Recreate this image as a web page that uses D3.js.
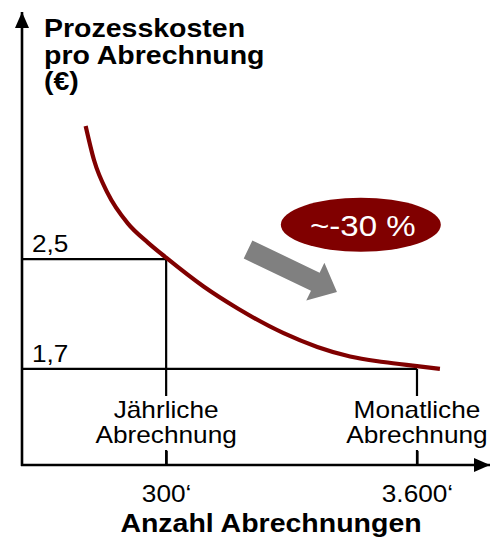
<!DOCTYPE html>
<html>
<head>
    <meta charset="utf-8" />
    <title>Prozesskosten pro Abrechnung</title>
    <script src="https://cdn.jsdelivr.net/npm/d3@7"></script>
    <style>
        body { margin: 0; background: #fff; }
        svg text { font-family: "Liberation Sans", Arial, sans-serif; fill: #000; }
        .bold { font-weight: bold; font-size: 25px; }
        .reg { font-size: 23px; }
    </style>
</head>
<body>
    <svg width="490" height="539"></svg>

    <script>
        // Kostenkurve (x = relative Position auf der Achse, y = Kosten in €)
        var curveX = [13.6, 15.4, 18.3, 22.6, 26.9, 30.8, 38.8, 46.1, 55.9, 63.1, 70.1, 77.2, 84.4, 89.3];
        var curveY = [3.47, 3.22, 2.98, 2.76, 2.62, 2.51, 2.30, 2.14, 1.96, 1.86, 1.79, 1.75, 1.72, 1.70];

        // Abrechnungsvarianten
        var levelX = [30.8, 84.4];
        var levelY = [2.5, 1.7];
        var levelLabels = ["2,5", "1,7"];
        var tickLabels = ["300‘", "3.600‘"];
        var categoryLabels = [["Jährliche", "Abrechnung"], ["Monatliche", "Abrechnung"]];

        var reductionLabel = "~-30 %";
        var titleLines = ["Prozesskosten", "pro Abrechnung", "(€)"];
        var xTitle = "Anzahl Abrechnungen";

        var SX = 1.14; // text is a bit wider in the original
        var darkRed = "#800000";

        var svg = d3.select("svg");
        var x = d3.scaleLinear().domain([0, 100]).range([22, 490]);
        var y = d3.scaleLinear().domain([1.0, 4.3]).range([465, 12]);

        var defs = svg.append("defs");
        defs.append("marker")
            .attr("id", "arrow")
            .attr("markerUnits", "userSpaceOnUse")
            .attr("markerWidth", 16).attr("markerHeight", 14)
            .attr("refX", 16).attr("refY", 7)
            .attr("orient", "auto")
            .append("path").attr("d", "M0,0L16,7L0,14Z").attr("fill", "#000");

        function label(x0, y0, str, cls, anchor) {
            var g = svg.append("g").attr("transform", "translate(" + x0 + "," + y0 + ") scale(" + SX + ",1)");
            return g.append("text").attr("class", cls).attr("text-anchor", anchor || "start").text(str);
        }

        // Hilfslinien
        levelY.forEach(function (v, i) {
            svg.append("line")
                .attr("x1", x(0)).attr("x2", x(levelX[i]))
                .attr("y1", y(v)).attr("y2", y(v))
                .attr("stroke", "#000").attr("stroke-width", 2.2);
            svg.append("line")
                .attr("x1", x(levelX[i])).attr("x2", x(levelX[i]))
                .attr("y1", y(v)).attr("y2", y(1.0))
                .attr("stroke", "#000").attr("stroke-width", 2.2);
            label(x(0) + 10, y(v) - 7, levelLabels[i], "reg");
        });

        // Kategorien über der x-Achse (mit weißem Hintergrund)
        levelX.forEach(function (v, i) {
            svg.append("rect")
                .attr("x", x(v) - 75).attr("y", 396)
                .attr("width", 150).attr("height", 54)
                .attr("fill", "#fff");
            label(x(v), 418, categoryLabels[i][0], "reg", "middle");
            label(x(v), 443, categoryLabels[i][1], "reg", "middle");
        });

        // x-Achse
        var xAxis = d3.axisBottom(x)
            .tickValues(levelX)
            .tickSizeInner(-14)
            .tickSizeOuter(0)
            .tickPadding(21)
            .tickFormat(function (d, i) { return tickLabels[i]; });

        var gx = svg.append("g").attr("transform", "translate(0," + y(1.0) + ")").call(xAxis);
        gx.select(".domain")
            .attr("d", "M" + (x(0) - 1) + ",0H" + x(100))
            .attr("stroke-width", 2.6)
            .attr("marker-end", "url(#arrow)");
        gx.selectAll(".tick line").attr("stroke-width", 2.2);
        gx.selectAll(".tick text")
            .attr("font-size", 23)
            .attr("font-family", "Liberation Sans, Arial, sans-serif")
            .attr("transform", "scale(" + SX + ",1)");

        // y-Achse
        svg.append("line")
            .attr("x1", x(0)).attr("x2", x(0))
            .attr("y1", y(1.0) + 1).attr("y2", y(4.3))
            .attr("stroke", "#000").attr("stroke-width", 2.6)
            .attr("marker-end", "url(#arrow)");

        // Kurve
        var line = d3.line()
            .x(function (d) { return x(d[0]); })
            .y(function (d) { return y(d[1]); })
            .curve(d3.curveMonotoneX);
        svg.append("path")
            .datum(d3.zip(curveX, curveY))
            .attr("d", line)
            .attr("fill", "none")
            .attr("stroke", darkRed)
            .attr("stroke-width", 4.2);

        // grauer Pfeil
        var tail = [x(48.3), y(2.57)], tip = [x(67.3), y(2.26)];
        var ang = Math.atan2(tip[1] - tail[1], tip[0] - tail[0]) * 180 / Math.PI;
        var len = Math.hypot(tip[0] - tail[0], tip[1] - tail[1]);
        var hl = 24, sw = 10, hw = 21;
        svg.append("path")
            .attr("transform", "translate(" + tail[0] + "," + tail[1] + ") rotate(" + ang + ")")
            .attr("d", "M0," + (-sw) + "L" + (len - hl) + "," + (-sw) + "L" + (len - hl) + "," + (-hw) +
                "L" + len + ",0L" + (len - hl) + "," + hw + "L" + (len - hl) + "," + sw + "L0," + sw + "Z")
            .attr("fill", "#808080");

        // Ellipse mit Einsparung
        svg.append("ellipse")
            .attr("cx", x(72.4)).attr("cy", y(2.75))
            .attr("rx", 80).attr("ry", 27)
            .attr("fill", darkRed);
        label(x(72.4) + 2, y(2.75) + 11, reductionLabel, "reg", "middle")
            .style("font-size", "29px").style("fill", "#fff");

        // Titel
        titleLines.forEach(function (t, i) {
            label(44, 37 + i * 26.5, t, "bold");
        });
        label(271, 532, xTitle, "bold", "middle");
    </script>
</body>
</html>
